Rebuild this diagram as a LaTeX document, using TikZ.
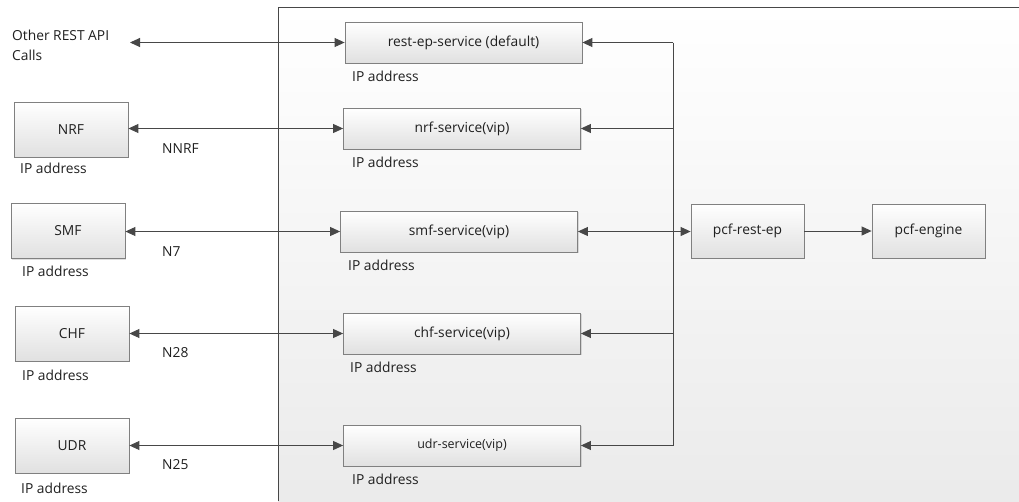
\documentclass[tikz,border=0pt]{standalone}
\usepackage{fontspec}
\setmainfont{Open Sans}
\usetikzlibrary{arrows,arrows.meta,positioning,shadows}

\begin{document}
\begin{tikzpicture}[x=1pt,y=-1pt,>={Triangle[length=10pt,width=9pt]}]
\tikzstyle{every node}=[font=\fontsize{13.8}{20}\selectfont,text=black!88]
\tikzstyle{box}=[rectangle,draw=black!50,line width=0.8pt,top color=white,bottom color=black!12,inner sep=0pt,drop shadow={shadow xshift=1pt,shadow yshift=-1pt,opacity=0.25}]
\tikzstyle{peer}=[box,minimum width=114pt,minimum height=55pt]
\tikzstyle{svc}=[box,minimum width=237pt,minimum height=41pt]
\tikzstyle{pcf}=[box,minimum width=113pt,minimum height=54pt]
\tikzstyle{lbl}=[anchor=west,inner sep=0pt]
\tikzstyle{wire}=[draw=black!72,line width=0.9pt]
\useasboundingbox (0,0) rectangle (1019,501);
\fill[top color=white,bottom color=black!8] (278,7) rectangle (1019,501);
\draw[black!72,line width=1pt] (1019,7) -- (278,7) -- (278,501);

\node[lbl,align=left] (other) at (12,45) {Other REST API\\Calls};
\node[peer] (nrf) at (71,129.5) {NRF};
\node[peer] (smf) at (68,231) {SMF};
\node[peer] (chf) at (72,333.5) {CHF};
\node[peer] (udr) at (72,445.5) {UDR};
\node[lbl] (nrfip) at (20,168) {IP address};
\node[lbl] (smfip) at (22,271) {IP address};
\node[lbl] (chfip) at (22,375) {IP address};
\node[lbl] (udrip) at (21,488) {IP address};
\node[lbl] (nnrf) at (162,149) {NNRF};
\node[lbl] (nseven) at (162,252) {N7};
\node[lbl] (ntwoeight) at (162,353) {N28};
\node[lbl] (ntwofive) at (162,465) {N25};

\node[svc] (restsvc) at (463.5,42.5) {rest-ep-service (default)};
\node[svc] (nrfsvc) at (462,128.5) {nrf-service(vip)};
\node[svc] (smfsvc) at (459,231.5) {smf-service(vip)};
\node[svc] (chfsvc) at (462,333.5) {chf-service(vip)};
\node[svc,font=\fontsize{12.5}{13}\selectfont] (udrsvc) at (462,445.5) {udr-service(vip)};
\node[lbl] (restip) at (352,76) {IP address};
\node[lbl] (nrfsvcip) at (352,162) {IP address};
\node[lbl] (smfsvcip) at (348,265) {IP address};
\node[lbl] (chfsvcip) at (350,367) {IP address};
\node[lbl] (udrsvcip) at (352,479) {IP address};

\node[pcf] (pcfrest) at (747.5,231) {pcf-rest-ep};
\node[pcf] (pcfengine) at (928.5,231) {pcf-engine};

\coordinate (otherend) at (130,42.5);
\coordinate (bus) at (673,0);
\draw[wire,<->] (otherend) -- (restsvc.west);
\draw[wire,<->] (nrf.east |- nrfsvc.west) -- (nrfsvc.west);
\draw[wire,<->] (smf.east |- smfsvc.west) -- (smfsvc.west);
\draw[wire,<->] (chf.east |- chfsvc.west) -- (chfsvc.west);
\draw[wire,<->] (udr.east |- udrsvc.west) -- (udrsvc.west);
\draw[wire,<->] (smfsvc.east) -- (pcfrest.west |- smfsvc.east);
\draw[wire,->] (pcfrest.east) -- (pcfengine.west);
\draw[wire] (restsvc.east -| bus) -- (udrsvc.east -| bus);
\foreach \s in {restsvc,nrfsvc,chfsvc,udrsvc}
  \draw[wire,->] (\s.east -| bus) -- (\s.east);
\end{tikzpicture}
\end{document}
